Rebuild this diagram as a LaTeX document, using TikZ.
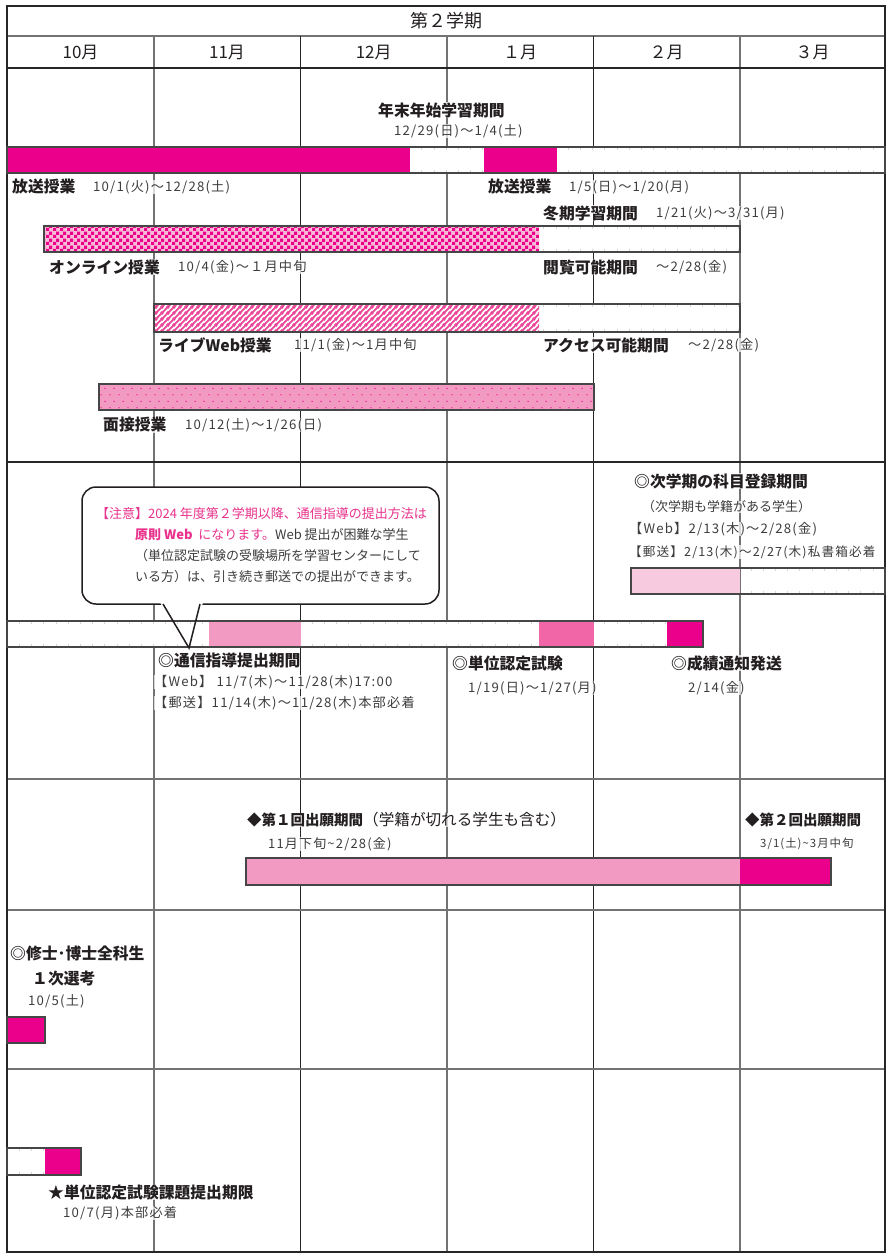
\documentclass[tikz,border=0pt]{standalone}
\usepackage{fontspec}
\setmainfont{Noto Sans CJK JP}
\newfontfamily\dfont[LetterSpace=9]{Noto Sans CJK JP}
\usetikzlibrary{patterns.meta}
\definecolor{mag}{RGB}{234,0,139}
\definecolor{pkA}{RGB}{243,154,194}
\definecolor{pkB}{RGB}{240,102,166}
\definecolor{pkC}{RGB}{248,202,224}
\definecolor{chkbg}{RGB}{248,186,214}
\definecolor{strpc}{RGB}{236,70,152}
\definecolor{txt}{RGB}{35,30,32}
\definecolor{txtd}{RGB}{62,60,60}
\definecolor{notepk}{RGB}{233,50,140}
\definecolor{gridg}{RGB}{115,115,115}
\definecolor{gridd}{RGB}{38,38,38}
\definecolor{barln}{RGB}{70,70,70}
\definecolor{tickc}{RGB}{215,215,215}

\tikzdeclarepattern{
  name=checkp, type=uncolored,
  bounding box={(0pt,0pt) and (6.6pt,6.6pt)},
  tile size={(6.6pt,6.6pt)},
  code={\fill (0pt,0pt) rectangle (3.3pt,3.3pt);
        \fill (3.3pt,3.3pt) rectangle (6.6pt,6.6pt);}
}
\tikzdeclarepattern{
  name=stripep, type=uncolored,
  bounding box={(0pt,0pt) and (6pt,6pt)},
  tile size={(6pt,6pt)},
  code={\draw[line width=2.1pt] (-1pt,-1pt) -- (7pt,7pt);
        \draw[line width=2.1pt] (-4pt,2pt) -- (2pt,8pt);
        \draw[line width=2.1pt] (2pt,-4pt) -- (8pt,2pt);}
}
\tikzdeclarepattern{
  name=dotp, type=uncolored,
  bounding box={(0pt,0pt) and (9pt,13.4pt)},
  tile size={(9pt,13.4pt)},
  code={\fill (2.25pt,3.35pt) circle (0.75pt);
        \fill (6.75pt,10.05pt) circle (0.75pt);}
}

\newcommand{\barticks}[4]{%
  \begin{scope}
    \clip (#1,#3) rectangle (#2,#4);
    \foreach \k in {1,...,71} {
      \draw[tickc, line width=0.5pt] ({7+\k*12.195},#3) -- ++(0,2.6)
                                     ({7+\k*12.195},#4) -- ++(0,-2.6);
    }
  \end{scope}}

\tikzset{
  lbl/.style={anchor=west, inner sep=0pt, fill=white, fill opacity=0.72, text opacity=1},
  lb/.style={lbl, text=txt, font=\bfseries\fontsize{15.8}{18}\selectfont},
  dt/.style={lbl, text=txtd, font=\dfont\fontsize{13.2}{16}\selectfont},
  nt/.style={lbl, text=txtd, font=\fontsize{13}{16}\selectfont},
  hdr/.style={inner sep=0pt, text=txt, font=\fontsize{18}{20}\selectfont},
  mon/.style={inner sep=0pt, text=txt, font=\fontsize{17}{20}\selectfont},
  barout/.style={draw=barln, line width=1.1pt},
  gl/.style={draw=gridg, line width=1.2pt},
  gd/.style={draw=gridd, line width=1.3pt},
}

\begin{document}
\begin{tikzpicture}[x=1pt,y=-1pt]
\useasboundingbox (0,0) rectangle (886,1255);
\fill[white] (0,0) rectangle (886,1255);

% ---------- grid ----------
\draw[gl] (7,36) -- (885,36);
\draw[gl] (154,36) -- (154,1252);
\draw[gd] (300.5,36) -- (300.5,1252);
\draw[gl] (447,36) -- (447,1252);
\draw[gd] (593.5,36) -- (593.5,1252);
\draw[gl] (740,36) -- (740,1252);
\draw[gd] (7,68) -- (885,68);
\draw[gd, line width=1.5pt] (7,462) -- (885,462);
\draw[gl, line width=2pt] (7,779) -- (885,779);
\draw[gl, line width=1.6pt] (7,910) -- (885,910);
\draw[gl, line width=2pt] (7,1069) -- (885,1069);
\draw[gridd, line width=1.4pt] (7,6) -- (7,1252);
\draw[gridd, line width=1.4pt] (885,6) -- (885,1252);
\draw[gridd, line width=2.4pt] (6,6) -- (886,6);
\draw[gridd, line width=2.4pt] (6,1252) -- (886,1252);

% ---------- header ----------
\node[hdr] (title) at (446,21) {第２学期};
\node[mon] (m10) at (80.5,52) {10月};
\node[mon] (m11) at (227,52) {11月};
\node[mon] (m12) at (373.7,52) {12月};
\node[mon] (m1) at (520,52) {１月};
\node[mon] (m2) at (666.7,52) {２月};
\node[mon] (m3) at (812.5,52) {３月};

% ---------- section 1 bars ----------
\fill[white] (7,147) rectangle (885,173);
\fill[mag] (7,147) rectangle (410,173);
\fill[mag] (484,147) rectangle (557,173);
\barticks{410}{484}{147}{173}
\barticks{557}{885}{147}{173}
\draw[barout] (7,147) rectangle (885,173);

\fill[white] (44,226) rectangle (740,252);
\fill[chkbg] (44,226) rectangle (539,252);
\fill[pattern=checkp, pattern color=mag] (44,226) rectangle (539,252);
\barticks{539}{740}{226}{252}
\draw[barout] (44,226) rectangle (740,252);

\fill[white] (154,304) rectangle (740,332);
\fill[pattern=stripep, pattern color=strpc] (154,304) rectangle (539,332);
\barticks{539}{740}{304}{332}
\draw[barout] (154,304) rectangle (740,332);

\fill[pkA] (99,384) rectangle (594,410);
\fill[pattern=dotp, pattern color=mag] (99,384) rectangle (594,410);
\draw[barout] (99,384) rectangle (594,410);

% ---------- section 1 labels ----------
\node[lb] (nenmatsu) at (378,110) {年末年始学習期間};
\node[dt] (nenmatsud) at (394,131) {12/29(日)～1/4(土)};
\node[lb] (hoso1) at (12,187) {放送授業};
\node[dt] (hoso1d) at (93,187) {10/1(火)～12/28(土)};
\node[lb] (hoso2) at (488,187) {放送授業};
\node[dt] (hoso2d) at (569,187) {1/5(日)～1/20(月)};
\node[lb] (toki) at (543,213) {冬期学習期間};
\node[dt] (tokid) at (656,213) {1/21(火)～3/31(月)};
\node[lb] (online) at (49,267) {オンライン授業};
\node[dt] (onlined) at (178,267) {10/4(金)～１月中旬};
\node[lb] (etsuran) at (543,267) {閲覧可能期間};
\node[dt] (etsurand) at (656,267) {～2/28(金)};
\node[lb] (live) at (158,345) {ライブWeb授業};
\node[dt] (lived) at (294,345) {11/1(金)～1月中旬};
\node[lb] (access) at (543,345) {アクセス可能期間};
\node[dt] (accessd) at (688,345) {～2/28(金)};
\node[lb] (mensetsu) at (103,425) {面接授業};
\node[dt] (mensetsud) at (185,425) {10/12(土)～1/26(日)};

% ---------- section 2 ----------
\draw[draw=txt, line width=1.5pt, fill=white, rounded corners=14pt] (82,487) rectangle (439,604);
\fill[white] (160,602.4) -- (203,602.4) -- (189,648) -- cycle;

\fill[pkC] (631,568) rectangle (740,594);
\barticks{740}{885}{568}{594}
\draw[barout] (631,568) rectangle (885,594);

\fill[white] (7,621) rectangle (703,647);
\fill[pkA] (209,621) rectangle (300.5,647);
\fill[pkB] (539,621) rectangle (593.5,647);
\fill[mag] (667,621) rectangle (703,647);
\barticks{7}{209}{621}{647}
\barticks{300.5}{539}{621}{647}
\barticks{593.5}{667}{621}{647}
\draw[barout] (7,621) rectangle (703,647);

\draw[draw=txt, line width=1.5pt, line join=miter] (163,604) -- (189,648) -- (200,604);

\node[nt, text=notepk] (note1) at (96,514) {【注意】2024 年度第２学期以降、通信指導の提出方法は};
\node[nt] (note2) at (135,535) {\textcolor{notepk}{\bfseries 原則 Web}\textcolor{notepk}{\ \ になります。}Web\ 提出が困難な学生};
\node[nt] (note3) at (135,556) {（単位認定試験の受験場所を学習センターにして};
\node[nt] (note4) at (135,577) {いる方）は、引き続き郵送での提出ができます。};

\node[lb] (toroku) at (634,481) {◎次学期の科目登録期間};
\node[nt] (toroku1) at (642,507) {（次学期も学籍がある学生）};
\node[dt] (toroku2) at (629,529) {【Web】2/13(木)～2/28(金)};
\node[dt, font=\dfont\fontsize{12.6}{15}\selectfont] (toroku3) at (629,552) {【郵送】2/13(木)～2/27(木)私書箱必着};

\node[lb] (tsushin) at (158,660) {◎通信指導提出期間};
\node[dt] (tsushin1) at (154,682) {【Web】 11/7(木)～11/28(木)17:00};
\node[dt] (tsushin2) at (154,703) {【郵送】11/14(木)～11/28(木)本部必着};
\node[lb] (shiken) at (452,663) {◎単位認定試験};
\node[dt] (shikend) at (468,688) {1/19(日)～1/27(月)};
\node[lb] (seiseki) at (671,663) {◎成績通知発送};
\node[dt] (seisekid) at (688,688) {2/14(金)};

% ---------- section 3 ----------
\fill[pkA] (246,858) rectangle (740,885);
\fill[mag] (740,858) rectangle (831,885);
\draw[barout] (246,858) rectangle (831,885);
\node[lb, font=\fontsize{15.6}{17}\selectfont] (shutsugan1) at (247,820) {{\bfseries\fontsize{14.5}{16}\selectfont ◆第１回出願期間}（学籍が切れる学生も含む）};
\node[dt, font=\dfont\fontsize{13}{15}\selectfont] (shutsugan1d) at (268,844) {11月下旬\textasciitilde 2/28(金)};
\node[lb, font=\bfseries\fontsize{14.5}{16}\selectfont] (shutsugan2) at (745,820) {◆第２回出願期間};
\node[dt, font=\dfont\fontsize{11.4}{14}\selectfont] (shutsugan2d) at (760,844) {3/1(土)\textasciitilde 3月中旬};

% ---------- section 4 ----------
\fill[mag] (7,1017) rectangle (45,1043);
\draw[barout] (7,1017) rectangle (45,1043);
\node[lb] (shushi) at (10,953) {◎修士･博士全科生};
\node[lb] (senko) at (32,978) {１次選考};
\node[dt] (senkod) at (28,1001) {10/5(土)};

% ---------- section 5 ----------
\fill[white] (7,1148) rectangle (45,1175);
\fill[mag] (45,1148) rectangle (81,1175);
\barticks{7}{45}{1148}{1175}
\draw[barout] (7,1148) rectangle (81,1175);
\node[lb] (kadai) at (48,1192) {★単位認定試験課題提出期限};
\node[dt] (kadaid) at (63,1213) {10/7(月)本部必着};
\end{tikzpicture}
\end{document}
